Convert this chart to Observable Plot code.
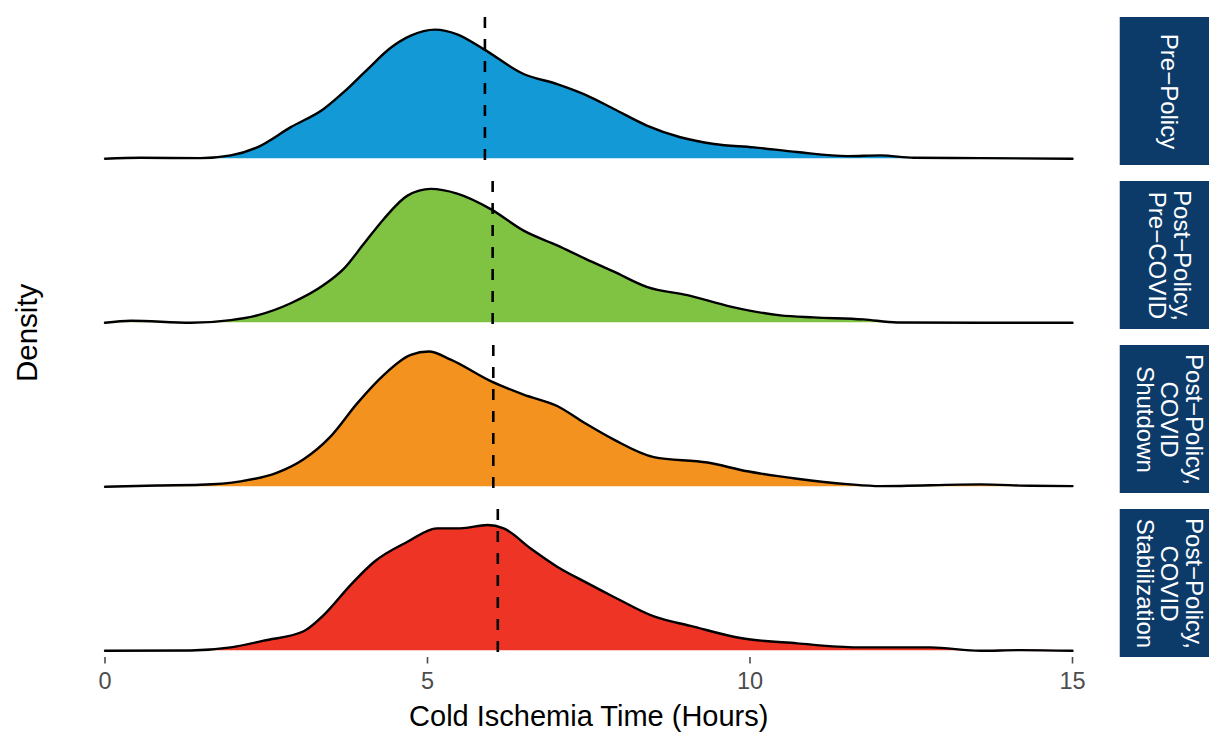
<!DOCTYPE html>
<html><head><meta charset="utf-8">
<script src="https://cdn.jsdelivr.net/npm/d3@7"></script>
<script src="https://cdn.jsdelivr.net/npm/@observablehq/plot@0.6"></script>
<style>body{margin:0;background:#fff;overflow:hidden;}</style>
</head><body><div id="chart"></div>
<script>
// Facet groups (top to bottom) and their strip labels
const groups = ["pre", "postPre", "shutdown", "stab"];
const stripLabels = ["Pre\u2212Policy", "Post\u2212Policy,\nPre\u2212COVID", "Post\u2212Policy,\nCOVID\nShutdown", "Post\u2212Policy,\nCOVID\nStabilization"];
const fills = ["#1399d6", "#80c342", "#f3921f", "#ee3424"];
// Median cold ischemia time per group (dashed lines)
const medians = [5.89, 6.01, 6.02, 6.09];
const xTicks = [0, 5, 10, 15];

// Density curves (hours, density)
const xPre = [0, 0.55, 1.48, 1.95, 2.36, 2.88, 3.39, 3.70, 4.07, 4.43, 4.74, 5.12, 5.46, 5.87, 6.49, 7.01, 7.45, 7.89, 8.41, 8.92, 9.44, 10.06, 10.73, 11.51, 12.02, 12.54, 13.57, 15];
const dPre = [0, 0.0015, 0.001, 0.005, 0.017, 0.047, 0.074, 0.099, 0.133, 0.165, 0.183, 0.192, 0.185, 0.163, 0.126, 0.111, 0.095, 0.074, 0.049, 0.032, 0.022, 0.017, 0.010, 0.004, 0.005, 0.0015, 0.001, 0];

const xPostPre = [0, 0.40, 1.33, 1.95, 2.36, 2.88, 3.39, 3.70, 4.01, 4.32, 4.69, 5.05, 5.46, 5.98, 6.49, 7.01, 7.45, 7.89, 8.41, 9.03, 9.70, 10.47, 10.99, 11.76, 12.28, 13.57, 15];
const dPostPre = [0, 0.003, 0, 0.004, 0.011, 0.029, 0.056, 0.080, 0.117, 0.154, 0.189, 0.199, 0.192, 0.169, 0.137, 0.115, 0.095, 0.076, 0.053, 0.041, 0.024, 0.011, 0.008, 0.005, 0.0005, 0, 0];

const xShutdown = [0, 0.81, 1.48, 2.10, 2.67, 3.08, 3.50, 3.91, 4.32, 4.74, 5.02, 5.36, 5.98, 6.49, 7.01, 7.45, 7.89, 8.51, 9.34, 9.96, 10.73, 11.51, 12.02, 13.57, 14.35, 15];
const dShutdown = [0, 0.002, 0.003, 0.008, 0.021, 0.041, 0.075, 0.124, 0.166, 0.196, 0.201, 0.189, 0.157, 0.137, 0.120, 0.094, 0.070, 0.044, 0.036, 0.023, 0.012, 0.004, 0.001, 0.0035, 0.0015, 0.001];

const xStab = [0, 1.33, 1.95, 2.46, 3.08, 3.39, 3.81, 4.17, 4.69, 5.15, 5.51, 5.93, 6.18, 6.60, 7.01, 7.45, 7.89, 8.51, 9.08, 9.85, 10.73, 11.66, 12.80, 13.57, 14.19, 15];
const dStab = [0, 0.0005, 0.005, 0.015, 0.029, 0.053, 0.098, 0.132, 0.162, 0.182, 0.182, 0.187, 0.182, 0.152, 0.125, 0.102, 0.080, 0.051, 0.037, 0.019, 0.011, 0.005, 0.005, 0, 0.001, 0];

const seriesX = [xPre, xPostPre, xShutdown, xStab];
const seriesD = [dPre, dPostPre, dShutdown, dStab];

const rows = [];
groups.forEach((g, i) => seriesX[i].forEach((x, j) => rows.push({group: g, x, d: seriesD[i][j]})));
const medianRows = groups.map((g, i) => ({group: g, median: medians[i]}));
const stripRows = groups.map((g, i) => ({group: g, label: stripLabels[i]}));

const font = "'Liberation Sans', Arial, Helvetica, sans-serif";

const chart = Plot.plot({
  width: 1209,
  height: 732,
  marginLeft: 104.5,
  marginRight: 137,
  marginTop: 16,
  marginBottom: 74.5,
  style: {fontFamily: font, background: "white"},
  x: {domain: [0, 15]},
  y: {domain: [-0.01, 0.21], axis: null},
  fy: {domain: groups, paddingInner: 0.1, paddingOuter: 0, axis: null, label: null},
  color: {domain: groups, range: fills},
  marks: [
    Plot.areaY(rows, {x: "x", y: "d", fy: "group", fill: "group", curve: "monotone-x"}),
    Plot.lineY(rows, {x: "x", y: "d", fy: "group", stroke: "black", strokeWidth: 2.4, curve: "monotone-x"}),
    Plot.ruleX(medianRows, {x: "median", fy: "group", stroke: "black", strokeWidth: 2.6, strokeDasharray: "11,11"}),
    Plot.rect(stripRows, {fy: "group", x1: 15.74, x2: 18, fill: "#0c3b6a"}),
    Plot.text(stripRows, {fy: "group", x: 16.5, text: "label", rotate: 90, fill: "white", fontSize: 24, lineHeight: 1.02, lineAnchor: "middle", textAnchor: "middle"}),
    Plot.axisX({ticks: xTicks, tickSize: 6.5, tickPadding: 8, fontSize: 23.5, color: "#4d4d4d", strokeWidth: 1.6, label: null}),
    Plot.text(["Cold Ischemia Time (Hours)"], {frameAnchor: "bottom", dy: 59, facet: "super", fontSize: 29, fill: "black", lineAnchor: "middle"}),
    Plot.text(["Density"], {frameAnchor: "left", dx: -77, dy: 44.5, rotate: -90, facet: "super", fontSize: 29.5, fill: "black", lineAnchor: "middle"})
  ]
});
document.getElementById("chart").appendChild(chart);
</script></body></html>
